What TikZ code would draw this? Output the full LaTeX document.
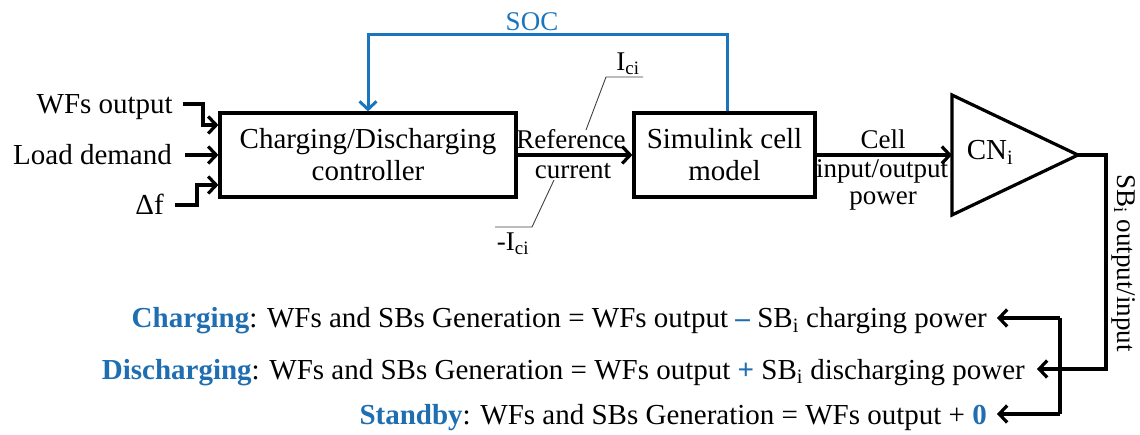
\documentclass[tikz,border=0pt]{standalone}
\usepackage{fontspec}
\setmainfont{Liberation Serif}
\usetikzlibrary{arrows.meta}
\definecolor{socblue}{RGB}{27,117,188}
\definecolor{txtblue}{RGB}{31,110,178}
\begin{document}
\begin{tikzpicture}[x=1pt,y=-1pt,
  every node/.style={font=\fontsize{29}{32}\selectfont, inner sep=0pt},
  blockbox/.style={draw, line width=3.2pt, align=center, minimum height=84pt},
  conn/.style={line width=3.2pt},
  arr/.style={conn, -{Straight Barb[length=8pt,width=17pt]}},
  socline/.style={line width=3pt, draw=socblue, -{Straight Barb[length=8pt,width=17pt]}},
  leader/.style={line width=0.9pt, draw=black!75},
  lbl/.style={font=\fontsize{27}{30}\selectfont},
  inlbl/.style={anchor=east, text height=19pt, text depth=0pt},
  eqn/.style={anchor=base east},
]
\useasboundingbox (0,0) rectangle (1140,435);

% blocks
\node[blockbox, minimum width=296pt] (ctrl) at (368,155) {Charging/Discharging\\controller};
\node[blockbox, minimum width=181pt] (sim) at (724.5,155) {Simulink cell\\model};
\coordinate (triL) at (952,155);
\coordinate (triT) at (1078,155);
\draw[conn, line join=miter] (952,95) -- (triT) -- (952,215) -- cycle;
\node (cn) at (990,152) {CN\textsubscript{i}};

% inputs
\node[inlbl] (wf) at (173,104) {WFs output};
\node[inlbl] (ld) at (172,155) {Load demand};
\node[inlbl] (df) at (164,205) {Δf};
\coordinate (wfk) at (203,125);
\coordinate (dfk) at (197,185);
\draw[arr, line join=miter] ([xshift=10pt]wf.east) -| (wfk) -- (wfk -| ctrl.west);
\draw[arr] ([xshift=13pt]ld.east) -- (ctrl.west);
\draw[arr, line join=miter] ([xshift=11pt]df.east) -| (dfk) -- (dfk -| ctrl.west);

% reference current
\draw[arr] (ctrl.east) -- (sim.west);
\node[lbl] (ref) at (571,139) {Reference};
\node[lbl] (cur) at (573,171) {current};
\node[lbl] (ici) at (628,64) {I\textsubscript{ci}};
\node[lbl] (mici) at (513,244) {-I\textsubscript{ci}};
\coordinate (iciA) at (643,77);
\coordinate (iciB) at (606,77);
\coordinate (iciC) at (586,130);
\draw[leader] (iciA) -- (iciB) -- (iciC);
\coordinate (miciA) at (495,227);
\coordinate (miciB) at (532,227);
\coordinate (miciC) at (554,180);
\draw[leader] (miciA) -- (miciB) -- (miciC);

% cell power
\draw[arr] (sim.east) -- (triL);
\node[lbl] (cell) at (883,139) {Cell};
\node[lbl] (io) at (882,171) {input/output};
\node[lbl] (pw) at (883,201) {power};

% SOC feedback
\coordinate (socR) at (727,35);
\coordinate (socL) at (368,35);
\draw[socline, line join=miter] (socR |- sim.north) -- (socR) -- (socL) -- (ctrl.north);
\node[lbl, text=socblue] (soc) at (532,22) {SOC};

% output distribution
\coordinate (dj) at (1106,369);
\coordinate (tipC) at (997,318);
\coordinate (tipD) at (1037,369);
\coordinate (tipS) at (997,414);
\coordinate (brT) at (1060,318);
\coordinate (brB) at (1060,414);
\draw[arr, line join=miter] (triT) -| (dj) -- (tipD);
\draw[conn] (brT) -- (brB);
\draw[arr] (brT) -- (tipC);
\draw[arr] (brB) -- (tipS);
\node[lbl, rotate=-90] (sbo) at (1124,263) {SB\textsubscript{i} output/input};

% equations
\node[eqn] (eqC) at (987,328) {\textcolor{txtblue}{\textbf{Charging}}: WFs and SBs Generation = WFs output \textcolor{txtblue}{\textbf{–}} SB\textsubscript{i} charging power};
\node[eqn] (eqD) at (1025,379) {\textcolor{txtblue}{\textbf{Discharging}}: WFs and SBs Generation = WFs output \textcolor{txtblue}{\textbf{+}} SB\textsubscript{i} discharging power};
\node[eqn] (eqS) at (987,424) {\textcolor{txtblue}{\textbf{Standby}}: WFs and SBs Generation = WFs output + \textcolor{txtblue}{\textbf{0}}};
\end{tikzpicture}
\end{document}
